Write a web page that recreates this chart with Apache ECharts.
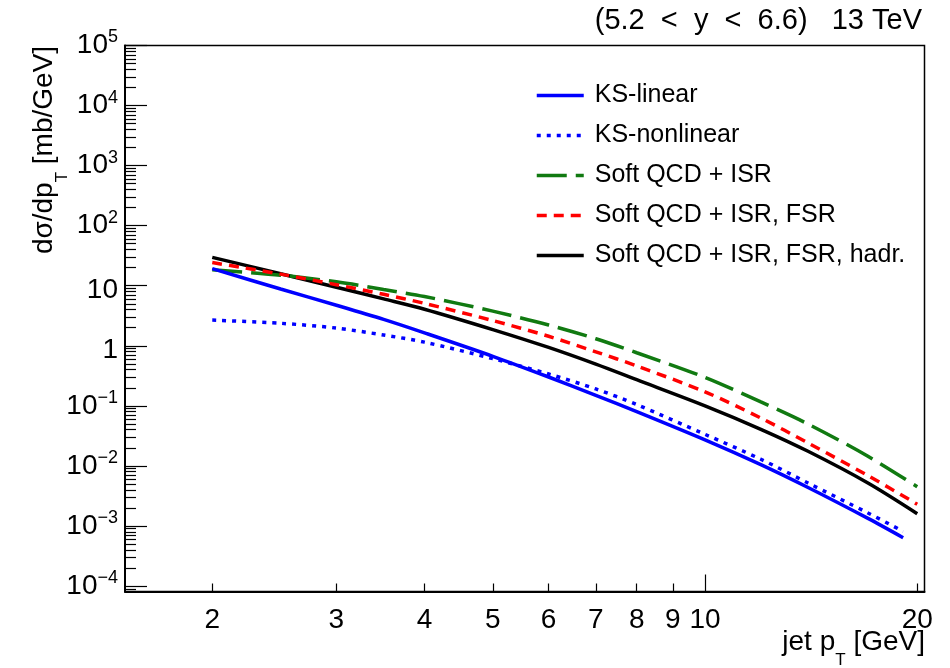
<!DOCTYPE html>
<html>
<head>
<meta charset="utf-8">
<title>jet pT spectrum</title>
<script src="https://cdn.jsdelivr.net/npm/echarts@6.0.0/dist/echarts.min.js"></script>
<style>
  html, body { margin: 0; padding: 0; background: #fff; }
  #main { width: 950px; height: 668px; }
</style>
</head>
<body>
<div id="main"></div>
<script>
var ptBins   = [2, 2.5, 3, 3.5, 4, 5, 6, 7, 8, 10, 12, 14, 17, 20];
var ptBinsKS = [2, 2.5, 3, 3.5, 4, 5, 6, 7, 8, 10, 12, 14, 17, 19.1];

// dsigma/dpT [mb/GeV]
var ksLinear    = [19.3, 8.81, 4.73, 2.75, 1.64, 0.668, 0.302, 0.150, 0.0804, 0.0272, 0.0105, 0.00437, 0.00135, 0.000638];
var ksNonlinear = [2.68, 2.37, 1.97, 1.51, 1.15, 0.610, 0.339, 0.191, 0.105, 0.0335, 0.0129, 0.00519, 0.00166, 0.000813];
var qcdIsr      = [18.4, 15.0, 11.6, 8.65, 6.61, 3.77, 2.22, 1.31, 0.766, 0.297, 0.116, 0.0498, 0.0146, 0.00451];
var qcdIsrFsr   = [24.3, 15.6, 10.4, 7.19, 5.08, 2.63, 1.44, 0.794, 0.462, 0.171, 0.0627, 0.0241, 0.00695, 0.00230];
var qcdHadr     = [29.7, 15.8, 9.44, 6.04, 4.06, 1.86, 0.938, 0.494, 0.272, 0.100, 0.0407, 0.0175, 0.00524, 0.00160];

var seriesNames = ['KS-linear', 'KS-nonlinear', 'Soft QCD + ISR', 'Soft QCD + ISR, FSR', 'Soft QCD + ISR, FSR, hadr.'];

// axis ticks
var xLabelValues = [2, 3, 4, 5, 6, 7, 8, 9, 10, 20];
var xMinorTicks  = [2, 3, 4, 5, 6, 7, 8, 9, 20];
var xMajorTicks  = [10];
var yDecades     = [-4, -3, -2, -1, 0, 1, 2, 3, 4, 5];
var xRange = [1.504, 20.48];
var yRange = [8.1e-5, 1e5];

var FONT = 'Liberation Sans, Arial, sans-serif';

function lg(v) { return Math.log10(v); }

function toPoints(pts, vals) {
    return pts.map(function (p, i) { return [lg(p), lg(vals[i])]; });
}

var yMinor = [];
for (var n = -5; n <= 4; n++) {
    for (var k = 2; k <= 9; k++) {
        yMinor.push(n + lg(k));
    }
}

function yLabel(v) {
    var n = Math.round(v);
    if (n === 0) return '{p|1}';
    if (n === 1) return '{p|10}';
    var e = n < 0 ? '\u2212' + (-n) : '' + n;
    return '{b|10}{sup|' + e + '}';
}

var myChart = echarts.init(document.getElementById('main'), null, { renderer: 'canvas' });

function line(name, pts, vals, color, type, z) {
    return {
        name: name,
        type: 'line',
        data: toPoints(pts, vals),
        xAxisIndex: 0,
        yAxisIndex: 0,
        smooth: 0.3,
        symbol: 'none',
        showSymbol: false,
        z: z,
        itemStyle: { color: color },
        lineStyle: { color: color, width: 3.5, type: type }
    };
}

var option = {
    animation: false,
    backgroundColor: '#fff',
    grid: {
        left: 125, right: 25.5, top: 45.5, bottom: 76.5,
        containLabel: false,
        show: true,
        borderColor: '#000',
        borderWidth: 1.5,
        backgroundColor: 'transparent'
    },
    legend: {
        data: seriesNames,
        orient: 'vertical',
        left: 530,
        top: 78,
        itemWidth: 47,
        itemHeight: 14,
        itemGap: 15,
        itemStyle: { opacity: 0 },
        lineStyle: { width: 3.5 },
        textStyle: { fontSize: 25, color: '#000', fontFamily: FONT, padding: [0, 0, 0, 6] },
        selectedMode: false
    },
    xAxis: [
        {
            type: 'value',
            min: lg(xRange[0]),
            max: lg(xRange[1]),
            position: 'bottom',
            axisLine: { show: true, onZero: false, lineStyle: { color: '#000', width: 2 } },
            axisTick: { show: true, inside: true, length: 8, customValues: xMinorTicks.map(lg), lineStyle: { color: '#000', width: 1.2 } },
            axisLabel: {
                customValues: xLabelValues.map(lg),
                formatter: function (v) { return String(Math.round(Math.pow(10, v))); },
                fontSize: 28, color: '#000', fontFamily: FONT, margin: 15
            },
            splitLine: { show: false }
        },
        {
            type: 'value',
            min: lg(xRange[0]),
            max: lg(xRange[1]),
            position: 'bottom',
            axisLine: { show: false, onZero: false },
            axisTick: { show: true, inside: true, length: 17, customValues: xMajorTicks.map(lg), lineStyle: { color: '#000', width: 1.2 } },
            axisLabel: { show: false },
            splitLine: { show: false }
        }
    ],
    yAxis: [
        {
            type: 'value',
            min: lg(yRange[0]),
            max: lg(yRange[1]),
            position: 'left',
            axisLine: { show: true, onZero: false, lineStyle: { color: '#000', width: 2 } },
            axisTick: { show: true, inside: true, length: 22, customValues: yDecades, lineStyle: { color: '#000', width: 1.2 } },
            axisLabel: {
                customValues: yDecades,
                formatter: yLabel,
                margin: 7,
                color: '#000',
                fontFamily: FONT,
                fontSize: 28,
                rich: {
                    p: { fontSize: 28, lineHeight: 28, fontFamily: FONT, color: '#000', padding: [9, 0, 0, 0] },
                    b: { fontSize: 28, lineHeight: 28, fontFamily: FONT, color: '#000', verticalAlign: 'bottom' },
                    sup: { fontSize: 18, lineHeight: 18, fontFamily: FONT, color: '#000', verticalAlign: 'bottom', padding: [13, 0, 13, 0] }
                }
            },
            splitLine: { show: false }
        },
        {
            type: 'value',
            min: lg(yRange[0]),
            max: lg(yRange[1]),
            position: 'left',
            axisLine: { show: false, onZero: false },
            axisTick: { show: true, inside: true, length: 11, customValues: yMinor, lineStyle: { color: '#000', width: 1.2 } },
            axisLabel: { show: false },
            splitLine: { show: false }
        }
    ],
    graphic: [
        {
            type: 'text',
            right: 28,
            top: 6,
            style: {
                text: '(5.2  <  y  <  6.6)   13 TeV',
                font: '29px ' + FONT,
                fill: '#000'
            }
        },
        {
            type: 'text',
            x: 44,
            y: 150,
            rotation: Math.PI / 2,
            style: {
                text: '{b|d\u03c3/dp}{s|T}{b| [mb/GeV]}',
                align: 'center',
                verticalAlign: 'middle',
                fill: '#000',
                rich: {
                    b: { fontSize: 28, lineHeight: 28, fontFamily: FONT, fill: '#000', verticalAlign: 'top' },
                    s: { fontSize: 17, lineHeight: 17, fontFamily: FONT, fill: '#000', verticalAlign: 'top', padding: [24, 0, 0, 0] }
                }
            }
        },
        {
            type: 'text',
            x: 925,
            y: 628,
            style: {
                text: '{b|jet p}{s|T}{b| [GeV]}',
                align: 'right',
                verticalAlign: 'top',
                fill: '#000',
                rich: {
                    b: { fontSize: 28, lineHeight: 28, fontFamily: FONT, fill: '#000', verticalAlign: 'top' },
                    s: { fontSize: 17, lineHeight: 17, fontFamily: FONT, fill: '#000', verticalAlign: 'top', padding: [24, 0, 0, 0] }
                }
            }
        }
    ],
    series: [
        line(seriesNames[0], ptBinsKS, ksLinear, '#0000ff', 'solid', 5),
        line(seriesNames[1], ptBinsKS, ksNonlinear, '#0000ff', [4, 6], 4),
        line(seriesNames[2], ptBins, qcdIsr, '#117a11', [30, 9], 3),
        line(seriesNames[3], ptBins, qcdIsrFsr, '#ff0000', [10, 7], 6),
        line(seriesNames[4], ptBins, qcdHadr, '#000000', 'solid', 2)
    ]
};

myChart.setOption(option);
</script>
</body>
</html>
